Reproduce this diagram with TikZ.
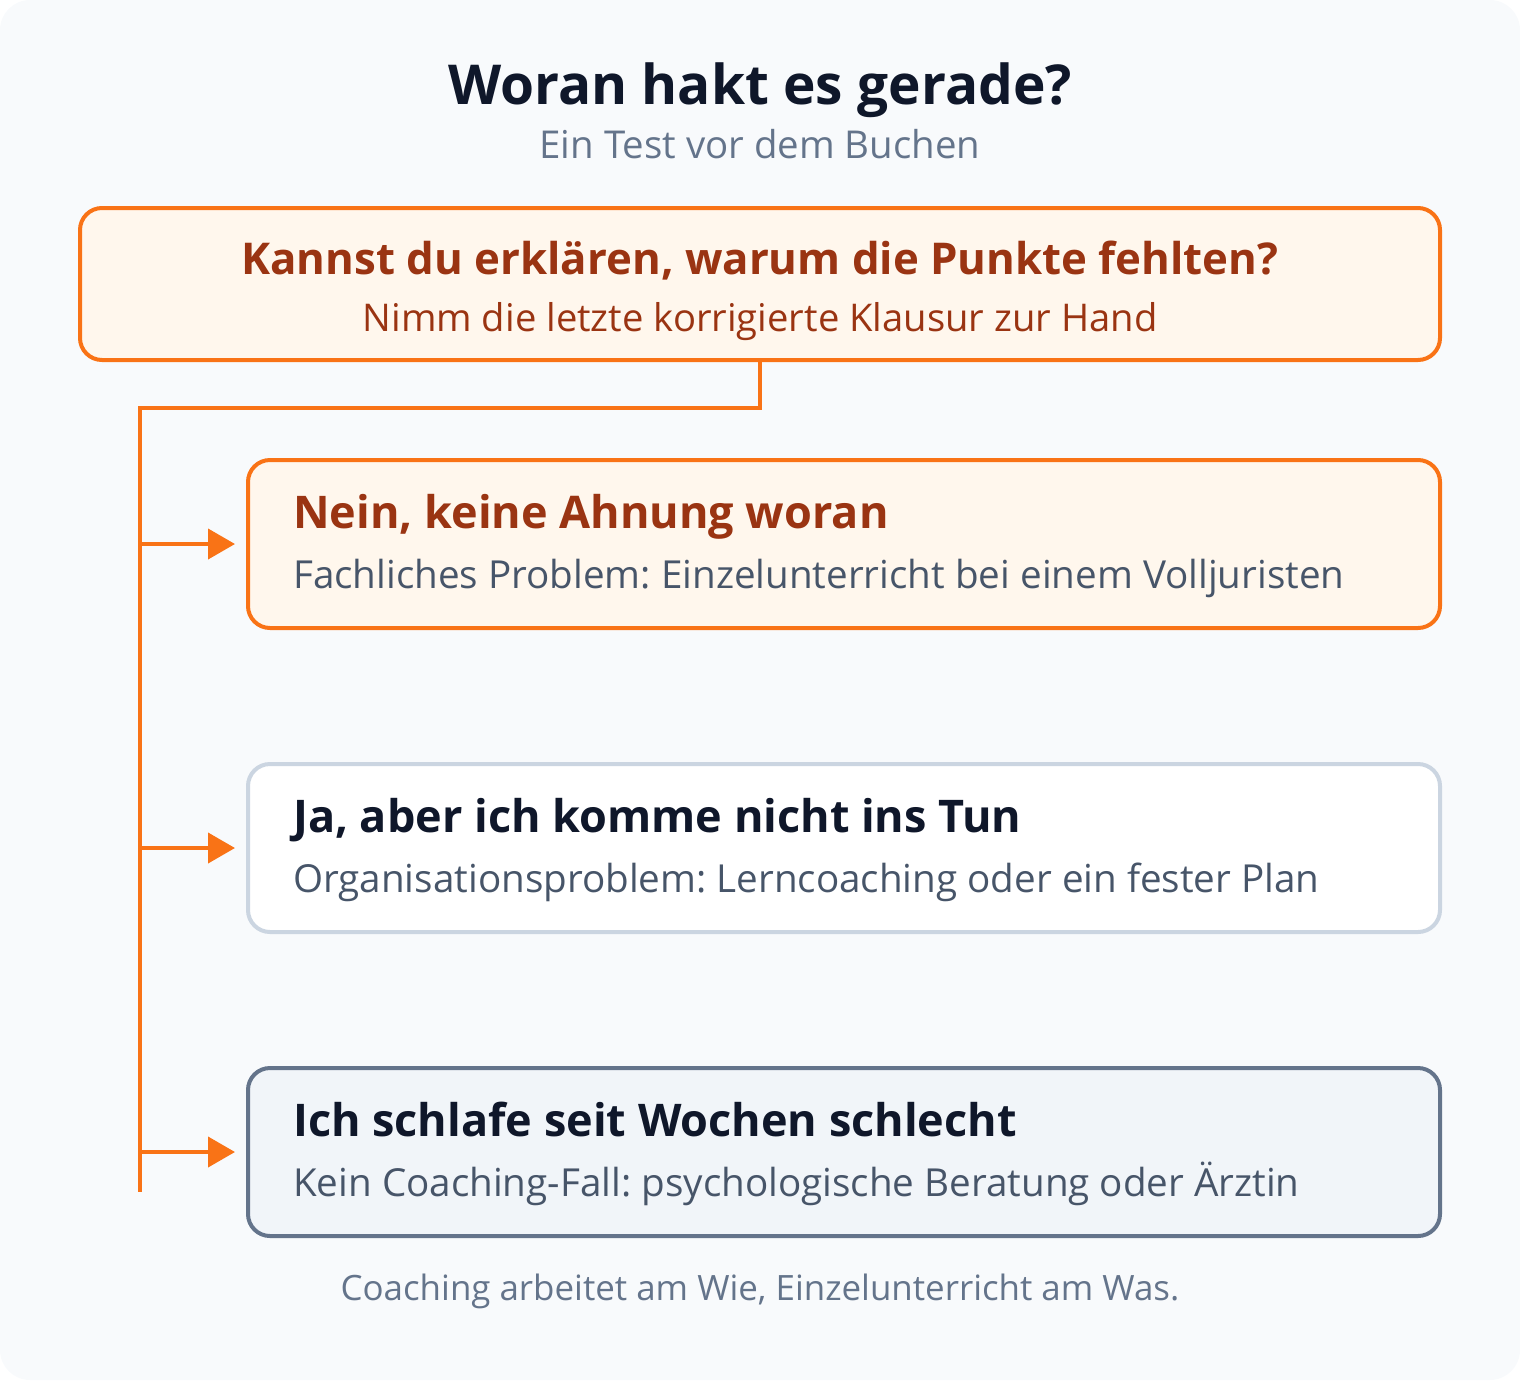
\documentclass[tikz,border=0pt]{standalone}
\usepackage{fontspec}
\setmainfont{Open Sans}
\usetikzlibrary{arrows.meta}
\frenchspacing

\definecolor{bgpage}{HTML}{F8FAFC}
\definecolor{accent}{HTML}{F97316}
\definecolor{accentfill}{HTML}{FFF7ED}
\definecolor{accentdark}{HTML}{9A3412}
\definecolor{ink}{HTML}{0F172A}
\definecolor{slatemid}{HTML}{475569}
\definecolor{slatesoft}{HTML}{64748B}
\definecolor{slateline}{HTML}{CBD5E1}
\definecolor{slatefill}{HTML}{F1F5F9}

\begin{document}
\begin{tikzpicture}[x=1pt, y=-1pt,
	box/.style = {rounded corners = 22pt, line width = 4pt, outer sep = 0pt,
		minimum width = 1192pt, minimum height = 168pt, inner sep = 0pt},
	hotbox/.style = {box, draw = accent, fill = accentfill},
	plainbox/.style = {box, draw = slateline, fill = white},
	darkbox/.style = {box, draw = slatesoft, fill = slatefill},
	link/.style = {draw = accent, line width = 4pt},
	arr/.style = {link, -{Triangle[length = 27pt, width = 30pt]}, shorten > = 13pt},
	headtxt/.style = {anchor = base west, inner sep = 0pt, font = \fontsize{45}{52}\selectfont\bfseries},
	subtxt/.style = {anchor = base west, inner sep = 0pt, font = \fontsize{38.6}{44}\selectfont, text = slatemid}
]

\useasboundingbox (0, 0) rectangle (1520, 1390);
\fill[bgpage, rounded corners = 30pt] (0, 0) rectangle (1520, 1380);

\node[anchor = base, inner sep = 0pt, text = ink, font = \fontsize{55}{62}\selectfont\bfseries] (title) at (760, 104) {Woran hakt es gerade?};
\node[anchor = base, inner sep = 0pt, text = slatesoft, font = \fontsize{38.4}{44}\selectfont] (subtitle) at (760, 158) {Ein Test vor dem Buchen};

\node[hotbox, minimum width = 1360pt, minimum height = 152pt] (q) at (760, 284) {};
\node[anchor = base, inner sep = 0pt, text = accentdark, font = \fontsize{43.8}{50}\selectfont\bfseries] (qhead) at (760, 274) {Kannst du erklären, warum die Punkte fehlten?};
\node[anchor = base, inner sep = 0pt, text = accentdark, font = \fontsize{38.2}{44}\selectfont] (qsub) at (760, 331) {Nimm die letzte korrigierte Klausur zur Hand};

\coordinate (knee) at (140, 408);
\coordinate (foot) at (140, 1192);
\draw[link] (q.south) |- (knee) -- (foot);

\foreach \y/\nm/\st/\hc/\head/\sub in {
	544/nein/hotbox/accentdark/{Nein, keine Ahnung woran}/{Fachliches Problem: Einzelunterricht bei einem Volljuristen},
	848/ja/plainbox/ink/{Ja, aber ich komme nicht ins Tun}/{Organisationsproblem: Lerncoaching oder ein fester Plan},
	1152/schlaf/darkbox/ink/{Ich schlafe seit Wochen schlecht}/{Kein Coaching-Fall: psychologische Beratung oder Ärztin}} {
	\node[\st] (\nm) at (844, \y) {};
	\node[headtxt, text = \hc] (\nm-head) at (293, \y - 16) {\head};
	\node[subtxt] (\nm-sub) at (293, \y + 44) {\sub};

	\coordinate (t-\nm) at (140, \y);
	\draw[arr] (t-\nm) -- (\nm.west);
}

\node[anchor = base, inner sep = 0pt, text = slatesoft, font = \fontsize{34.9}{40}\selectfont] (note) at (760, 1300) {Coaching arbeitet am Wie, Einzelunterricht am Was.};

\end{tikzpicture}
\end{document}
